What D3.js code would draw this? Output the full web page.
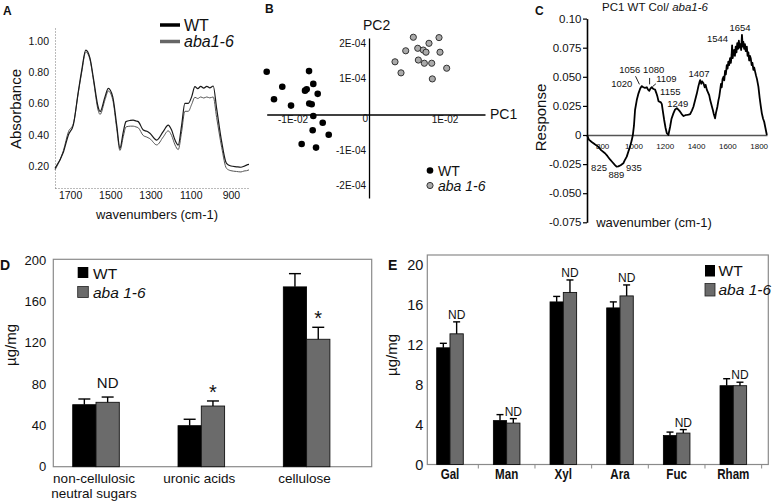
<!DOCTYPE html>
<html><head><meta charset="utf-8">
<script src="https://cdn.jsdelivr.net/npm/d3@7"></script>
<style>
body{margin:0;background:#fff}
svg text{font-family:"Liberation Sans",Arial,Helvetica,sans-serif;fill:#111}
</style>
</head><body>
<svg id="chart" width="774" height="502"></svg>
<script>
// ---------------- DATA ----------------
// Panel A: FTIR spectra
const aWavenumbers = [1775,1733,1708,1684,1659,1642,1622,1601,1584,1559,1551,1526,1510,1488,1468,1452,1435,1422,1400,1386,1372,1361,1336,1318,1303,1269,1237,1212,1195,1178,1162,1145,1129,1112,1095,1079,1065,1050,1035,1020,1005,988,971,946,922,900,872,850,835,822,810];
const aWT  = [0.185,0.29,0.40,0.462,0.676,0.814,0.942,0.891,0.763,0.571,0.548,0.644,0.697,0.644,0.462,0.313,0.42,0.484,0.492,0.494,0.488,0.484,0.43,0.422,0.409,0.366,0.42,0.462,0.43,0.366,0.334,0.462,0.601,0.601,0.644,0.708,0.695,0.71,0.698,0.71,0.70,0.712,0.569,0.356,0.217,0.20,0.195,0.192,0.198,0.206,0.21];
const aAba = [0.175,0.30,0.42,0.47,0.67,0.80,0.93,0.88,0.75,0.55,0.53,0.625,0.68,0.625,0.44,0.30,0.39,0.45,0.455,0.455,0.45,0.445,0.395,0.385,0.375,0.335,0.385,0.425,0.395,0.335,0.305,0.42,0.55,0.55,0.595,0.64,0.632,0.642,0.635,0.642,0.636,0.642,0.51,0.32,0.185,0.17,0.165,0.162,0.168,0.17,0.175];
const aTicksY = [0.2,0.4,0.6,0.8,1.0];
const aTicksX = [1700,1500,1300,1100,900];

// Panel B: PCA scores
const bWT_PC1 = [-0.01346,-0.00789,-0.01141,-0.00733,-0.00842,-0.0082,-0.00675,-0.0125,-0.01026,-0.00786,-0.00754,-0.00733,-0.00609,-0.00741,-0.0053,-0.00886,-0.00697];
const bWT_PC2 = [1.20e-4,1.22e-4,0.78e-4,0.86e-4,0.67e-4,0.71e-4,0.58e-4,0.43e-4,0.25e-4,0.31e-4,0.29e-4,-0.04e-4,-0.23e-4,-0.44e-4,-0.57e-4,-0.83e-4,-0.93e-4];
const bAba_PC1 = [0.00583,0.00921,0.00483,0.00641,0.00789,0.00714,0.0075,0.00934,0.00342,0.00649,0.00728,0.00825,0.00421,0.01022,0.00833];
const bAba_PC2 = [2.17e-4,2.16e-4,1.79e-4,1.86e-4,2.0e-4,1.81e-4,1.75e-4,1.75e-4,1.48e-4,1.53e-4,1.44e-4,1.44e-4,1.17e-4,1.30e-4,1.0e-4];
const bXTicks = [-0.01, 0.01];
const bXLabels = ["-1E-02","1E-02"];
const bYTicks = [2e-4,1e-4,-1e-4,-2e-4];
const bYLabels = ["2E-04","1E-04","-1E-04","-2E-04"];

// Panel C: PC1 loadings
const cWave = [700,712,730,750,772,790,815,830,847,860,879,889,900,915,932,940,954,965,975,985,993,1000,1007,1018,1029,1040,1050,1060,1070,1082,1090,1098,1106,1114,1125,1135,1143,1150,1157,1165,1172,1178,1185,1193,1202,1210,1220,1231,1240,1252,1263,1274,1285,1295,1305,1317,1328,1338,1349,1359,1370,1380,1391,1402,1412,1418,1423,1430,1436,1444,1452,1458,1466,1475,1481,1487,1495,1504,1510,1518,1524,1533,1540,1545,1551,1556,1561,1566,1572,1577,1582,1587,1593,1598,1603,1608,1614,1619,1624,1627,1631,1636,1640,1645,1650,1655,1660,1665,1670,1675,1680,1685,1690,1695,1699,1704,1709,1714,1721,1726,1731,1736,1741,1746,1752,1757,1763,1768,1774,1780,1786,1795,1803,1810,1817,1825,1832,1840,1849];
const cResp = [0,-0.004,-0.006,-0.008,-0.010,-0.013,-0.0157,-0.018,-0.021,-0.023,-0.0258,-0.0272,-0.027,-0.026,-0.0243,-0.022,-0.0186,-0.014,-0.010,-0.005,0,0.008,0.0215,0.030,0.0358,0.040,0.042,0.041,0.0405,0.041,0.039,0.038,0.040,0.041,0.0395,0.039,0.036,0.033,0.029,0.0285,0.028,0.0265,0.020,0.0129,0.006,0.0015,0,0.0071,0.014,0.0186,0.022,0.023,0.0215,0.020,0.018,0.0163,0.017,0.0172,0.0175,0.018,0.021,0.0243,0.030,0.0358,0.042,0.045,0.0472,0.044,0.046,0.0444,0.041,0.043,0.0387,0.036,0.034,0.030,0.026,0.0215,0.018,0.0143,0.019,0.0243,0.030,0.033,0.0387,0.044,0.041,0.048,0.050,0.047,0.055,0.052,0.060,0.057,0.063,0.060,0.066,0.062,0.069,0.077,0.066,0.072,0.073,0.068,0.076,0.071,0.079,0.074,0.081,0.075,0.078,0.073,0.086,0.076,0.080,0.074,0.078,0.072,0.0759,0.068,0.071,0.064,0.068,0.066,0.060,0.062,0.056,0.058,0.0544,0.051,0.048,0.0415,0.032,0.025,0.0186,0.014,0.0114,0.006,0];
const cYTicks = [0.10,0.075,0.05,0.025,0,-0.025,-0.05,-0.075];
const cYLabels = ["0.10","0.075","0.050","0.025","0","-0.025","-0.050","-0.075"];
const cXTicks = [800,1000,1200,1400,1600,1800];
const cPeakLabels = ["1056","1080","1020","1109","1155","1249","1407","1544","1654","825","889","935"];
const cPeakX = [973,1126,922,1207,1232,1280,1416,1534,1678,777,888,1000];
const cPeakY = [0.0533,0.0533,0.0412,0.0455,0.0347,0.0240,0.0498,0.0799,0.0893,-0.0309,-0.0369,-0.0309];

// Panel D
const dCategories = ["non-cellulosic|neutral sugars","uronic acids","cellulose"];
const dWT = [60, 39.7, 174];
const dWTerr = [5.5, 6.2, 12.8];
const dAba = [62.3, 58.7, 123.3];
const dAbaErr = [5.1, 4.9, 11.6];
const dNotes = ["ND","*","*"];
const dTicks = [0,40,80,120,160,200];

// Panel E
const eCategories = ["Gal","Man","Xyl","Ara","Fuc","Rham"];
const eWT = [11.7, 4.4, 16.3, 15.7, 2.9, 7.9];
const eWTerr = [0.45, 0.6, 0.55, 0.6, 0.35, 0.7];
const eAba = [13.1, 4.15, 17.25, 16.9, 3.15, 7.9];
const eAbaErr = [1.2, 0.45, 1.25, 1.1, 0.35, 0.35];
const eNotes = ["ND","ND","ND","ND","ND","ND"];
const eTicks = [0,4,8,12,16,20];

const seriesNames = ["WT","aba 1-6"];
const colWT = "#000", colAba = "#6b6b6b";

// ---------------- DRAW ----------------
const svg = d3.select("#chart");

function panelLetter(t,x,y,size){
  svg.append("text").attr("x",x).attr("y",y).attr("font-weight","bold")
    .attr("font-size",size).text(t);
}

// ===== Panel A =====
(function(){
  const g = svg.append("g");
  const x = d3.scaleLinear().domain([1775, 805]).range([55, 250]);
  const y = d3.scaleLinear().domain([0.0592, 1.0896]).range([188, 27]);
  const ay = g.append("g").attr("transform","translate(55,0)")
    .call(d3.axisLeft(y).tickValues(aTicksY).tickFormat(d3.format(".2f")).tickSize(0).tickPadding(6));
  const ax = g.append("g").attr("transform","translate(0,188)")
    .call(d3.axisBottom(x).tickValues(aTicksX).tickFormat(d3.format("d")).tickSize(0).tickPadding(4));
  [ay,ax].forEach(a=>{
    a.select(".domain").attr("stroke","#777").attr("stroke-dasharray","1,2");
    a.selectAll("text").attr("font-size","10.5px").attr("fill","#222");
  });
  const line = d3.line().curve(d3.curveMonotoneX);
  g.append("path").attr("d", line(aWavenumbers.map((w,i)=>[x(w), y(aAba[i])])))
    .attr("fill","none").attr("stroke","#555").attr("stroke-width",1);
  g.append("path").attr("d", line(aWavenumbers.map((w,i)=>[x(w), y(aWT[i])])))
    .attr("fill","none").attr("stroke","#1a1a1a").attr("stroke-width",1.2);
  g.append("text").attr("transform","translate(21,109) rotate(-90)").attr("text-anchor","middle")
    .attr("font-size","15px").attr("fill","#222").text("Absorbance");
  g.append("text").attr("x",157).attr("y",219).attr("text-anchor","middle")
    .attr("font-size","13px").attr("fill","#222").text("wavenumbers (cm-1)");
  // legend
  g.append("line").attr("x1",160).attr("x2",180).attr("y1",25).attr("y2",25).attr("stroke","#000").attr("stroke-width",3.5);
  g.append("line").attr("x1",160).attr("x2",180).attr("y1",41.5).attr("y2",41.5).attr("stroke","#666").attr("stroke-width",3.5);
  g.append("text").attr("x",184).attr("y",30.5).attr("font-size","16px").text("WT");
  g.append("text").attr("x",184).attr("y",47).attr("font-size","16px").attr("font-style","italic").text("aba1-6");
  panelLetter("A",3,15,"12px");
})();

// ===== Panel B =====
(function(){
  const g = svg.append("g");
  const x = d3.scaleLinear().domain([-0.01346, 0.01526]).range([266.7, 485]);
  const y = d3.scaleLinear().domain([-2.345e-4, 2.149e-4]).range([198, 38]);
  g.append("g").attr("transform",`translate(0,${y(0)})`)
    .call(d3.axisBottom(x).tickValues([]).tickSizeOuter(0))
    .select(".domain").attr("stroke","#000").attr("stroke-width",1.3);
  g.append("g").attr("transform",`translate(${x(0)},0)`)
    .call(d3.axisLeft(y).tickValues([]).tickSizeOuter(0))
    .select(".domain").attr("stroke","#000").attr("stroke-width",1.3);
  g.selectAll(".xl").data(bXTicks).join("text").attr("x",d=>x(d)).attr("y",y(0)+8.5)
    .attr("text-anchor","middle").attr("font-size","10px").attr("fill","#222").text((d,i)=>bXLabels[i]);
  g.append("text").attr("x",x(0)-1).attr("y",y(0)+7.5).attr("text-anchor","end").attr("font-size","10px").attr("fill","#222").text("0");
  g.selectAll(".yl").data(bYTicks).join("text").attr("x",x(0)-3).attr("y",d=>y(d)).attr("dy","0.35em")
    .attr("text-anchor","end").attr("font-size","10px").attr("fill","#222").text((d,i)=>bYLabels[i]);
  g.append("text").attr("x",490).attr("y",118.5).attr("font-size","14px").text("PC1");
  g.append("text").attr("x",363).attr("y",30).attr("font-size","14px").text("PC2");
  g.selectAll(".wt").data(bWT_PC1).join("circle").attr("cx",d=>x(d)).attr("cy",(d,i)=>y(bWT_PC2[i]))
    .attr("r",3.3).attr("fill","#000");
  g.selectAll(".ab").data(bAba_PC1).join("circle").attr("cx",d=>x(d)).attr("cy",(d,i)=>y(bAba_PC2[i]))
    .attr("r",3.1).attr("fill","#aaa").attr("stroke","#333").attr("stroke-width",1);
  // legend
  g.append("circle").attr("cx",430).attr("cy",170.5).attr("r",3.3).attr("fill","#000");
  g.append("circle").attr("cx",430).attr("cy",185.5).attr("r",3.1).attr("fill","#aaa").attr("stroke","#333");
  g.append("text").attr("x",438).attr("y",175.5).attr("font-size","14px").text(seriesNames[0]);
  g.append("text").attr("x",438).attr("y",191).attr("font-size","14px").attr("font-style","italic").text(seriesNames[1]);
  panelLetter("B",265,13,"12px");
})();

// ===== Panel C =====
(function(){
  const g = svg.append("g");
  const x = d3.scaleLinear().domain([700, 1850]).range([587, 767]);
  const y = d3.scaleLinear().domain([-0.075, 0.10]).range([222.3, 18.6]);
  g.append("g").attr("transform",`translate(0,${y(0)})`)
    .call(d3.axisBottom(x).tickValues([]).tickSizeOuter(0))
    .select(".domain").attr("stroke","#555").attr("stroke-width",1.6);
  g.selectAll(".cx").data(cXTicks).join("text").attr("x",d=>x(d)).attr("y",y(0)+14)
    .attr("text-anchor","middle").attr("font-size","8px").attr("fill","#333").text(d=>d);
  const ay = g.append("g").attr("transform",`translate(${x(700)},0)`)
    .call(d3.axisLeft(y).tickValues(cYTicks).tickFormat((d,i)=>cYLabels[i]).tickSize(4).tickPadding(1.5).tickSizeOuter(0));
  ay.select(".domain").attr("stroke","#000").attr("stroke-width",1.6);
  ay.selectAll("line").attr("stroke","#000").attr("stroke-width",1.2);
  ay.selectAll("text").attr("font-size","11.5px").attr("fill","#111");
  g.append("path").attr("d", d3.line()(cWave.map((w,i)=>[x(w), y(cResp[i])])))
    .attr("fill","none").attr("stroke","#000").attr("stroke-width",1.8).attr("stroke-linejoin","round");
  g.selectAll(".pk").data(cPeakLabels).join("text").attr("x",(d,i)=>x(cPeakX[i])).attr("y",(d,i)=>y(cPeakY[i]))
    .attr("text-anchor","middle").attr("font-size","9.5px").attr("fill","#222").text(d=>d);
  // leader marks
  g.append("line").attr("x1",x(1010)).attr("y1",y(0.0505)).attr("x2",x(1035)).attr("y2",y(0.0435)).attr("stroke","#222");
  g.append("line").attr("x1",x(1100)).attr("y1",y(0.049)).attr("x2",x(1100)).attr("y2",y(0.0435)).attr("stroke","#222");
  g.append("line").attr("x1",x(1140)).attr("y1",y(0.044)).attr("x2",x(1118)).attr("y2",y(0.0415)).attr("stroke","#222");
  g.append("text").attr("transform","translate(546,117.5) rotate(-90)").attr("text-anchor","middle")
    .attr("font-size","15px").attr("fill","#222").text("Response");
  g.append("text").attr("x",654).attr("y",227).attr("text-anchor","middle")
    .attr("font-size","13px").attr("fill","#222").text("wavenumber (cm-1)");
  const t = g.append("text").attr("x",655).attr("y",11).attr("text-anchor","middle").attr("font-size","11.5px").attr("fill","#222");
  t.append("tspan").text("PC1 WT Col/ ");
  t.append("tspan").attr("font-style","italic").text("aba1-6");
  panelLetter("C",535,15,"12px");
})();

// ===== Bar panel helper =====
function barPanel(o){
  const g = svg.append("g");
  const x = d3.scaleBand().domain(o.cats).range(o.xRange).paddingInner(0).paddingOuter(0);
  const y = d3.scaleLinear().domain([0, o.yMax]).range([o.y0, o.yTop]);
  g.append("rect").attr("x",o.frame[0]).attr("y",o.frame[1]).attr("width",o.frame[2]-o.frame[0]).attr("height",o.frame[3]-o.frame[1])
    .attr("fill","none").attr("stroke","#8a8a8a").attr("stroke-width",1.2);
  const ay = g.append("g").attr("transform",`translate(${o.frame[0]},0)`)
    .call(d3.axisLeft(y).tickValues(o.ticks).tickSize(0).tickPadding(o.tickPad));
  ay.select(".domain").remove();
  ay.selectAll("text").attr("font-size",o.tickFont).attr("fill","#222");
  const rows = o.cats.map((c,i)=>({c, wt:o.wt[i], wte:o.wte[i], ab:o.ab[i], abe:o.abe[i], note:o.notes[i]}));
  const bw = o.bw;
  const gr = g.selectAll(".grp").data(rows).join("g").attr("transform",d=>`translate(${x(d.c)+x.bandwidth()/2},0)`);
  gr.append("rect").attr("x",-bw).attr("width",bw).attr("y",d=>y(d.wt)).attr("height",d=>y(0)-y(d.wt))
    .attr("fill",colWT).attr("stroke","#000").attr("stroke-width",0.8);
  gr.append("rect").attr("x",0).attr("width",bw).attr("y",d=>y(d.ab)).attr("height",d=>y(0)-y(d.ab))
    .attr("fill",colAba).attr("stroke","#111").attr("stroke-width",0.9);
  const cap = o.cap;
  [[d=>d.wt,d=>d.wte,-bw/2],[d=>d.ab,d=>d.abe,bw/2]].forEach(([v,e,cx])=>{
    gr.append("line").attr("x1",cx).attr("x2",cx).attr("y1",d=>y(v(d))).attr("y2",d=>y(v(d)+e(d))).attr("stroke","#000").attr("stroke-width",1.4);
    gr.append("line").attr("x1",cx-cap).attr("x2",cx+cap).attr("y1",d=>y(v(d)+e(d))).attr("y2",d=>y(v(d)+e(d))).attr("stroke","#000").attr("stroke-width",1.4);
  });
  gr.append("text").attr("x",bw/2).attr("y",d=>y(d.ab+d.abe) - (d.note==="*"?o.starOff:o.ndOff))
    .attr("text-anchor","middle").attr("font-size",d=>d.note==="*"?o.starFont:o.ndFont).text(d=>d.note);
  return {g,x,y,gr};
}

// ===== Panel D =====
(function(){
  const p = barPanel({cats:dCategories, xRange:[43.35,359.25], yMax:200, y0:466.7, yTop:260,
    frame:[53.3,259.3,371.7,466.7], ticks:dTicks, tickPad:7, tickFont:"13px",
    wt:dWT, wte:dWTerr, ab:dAba, abe:dAbaErr, notes:dNotes, bw:23.3, cap:6,
    starOff:2, ndOff:9, starFont:"20px", ndFont:"15px"});
  p.gr.append("text").attr("x",-2).attr("y",483).attr("text-anchor","middle").attr("font-size","13.5px").attr("fill","#222")
    .each(function(d){
      const parts = d.c.split("|");
      d3.select(this).selectAll("tspan").data(parts).join("tspan").attr("x",-2).attr("dy",(s,i)=>i?15:0).text(s=>s);
    });
  svg.append("text").attr("transform","translate(16,345) rotate(-90)").attr("text-anchor","middle")
    .attr("font-size","15px").attr("fill","#222").text("µg/mg");
  svg.append("rect").attr("x",77.7).attr("y",267).attr("width",10.6).attr("height",11).attr("fill",colWT);
  svg.append("rect").attr("x",77.7).attr("y",286.5).attr("width",10.6).attr("height",11).attr("fill",colAba).attr("stroke","#222").attr("stroke-width",0.8);
  svg.append("text").attr("x",93).attr("y",278.5).attr("font-size","15.5px").text(seriesNames[0]);
  svg.append("text").attr("x",93).attr("y",297.5).attr("font-size","15.5px").attr("font-style","italic").text(seriesNames[1]);
  panelLetter("D",0,270,"14px");
})();

// ===== Panel E =====
(function(){
  const p = barPanel({cats:eCategories, xRange:[421.65,761.65], yMax:20, y0:464.5, yTop:265,
    frame:[427.3,255,768.3,464.5], ticks:eTicks, tickPad:4, tickFont:"14.5px",
    wt:eWT, wte:eWTerr, ab:eAba, abe:eAbaErr, notes:eNotes, bw:13.3, cap:3.5,
    starOff:2, ndOff:3, starFont:"18px", ndFont:"12px"});
  p.g.selectAll(".bt").data(eCategories.concat(["_end"])).join("line")
    .attr("x1",(d,i)=>p.x.range()[0]+i*p.x.step()).attr("x2",(d,i)=>p.x.range()[0]+i*p.x.step())
    .attr("y1",p.y(0)).attr("y2",p.y(0)+4).attr("stroke","#8a8a8a");
  p.gr.append("g").attr("transform","translate(0,479) scale(0.8,1)")
    .append("text").attr("text-anchor","middle").attr("font-weight","bold").attr("font-size","14.5px").text(d=>d.c);
  svg.append("text").attr("transform","translate(397,355) rotate(-90)").attr("text-anchor","middle")
    .attr("font-size","15px").attr("fill","#222").text("µg/mg");
  svg.append("rect").attr("x",705).attr("y",265).attr("width",10).attr("height",11.5).attr("fill",colWT);
  svg.append("rect").attr("x",705).attr("y",283.5).attr("width",10).attr("height",12.5).attr("fill",colAba).attr("stroke","#222").attr("stroke-width",0.8);
  svg.append("text").attr("x",718.5).attr("y",276).attr("font-size","15.5px").text(seriesNames[0]);
  svg.append("text").attr("x",718.5).attr("y",295).attr("font-size","15.5px").attr("font-style","italic").text(seriesNames[1]);
  panelLetter("E",388,270,"14px");
})();
</script>
</body></html>
